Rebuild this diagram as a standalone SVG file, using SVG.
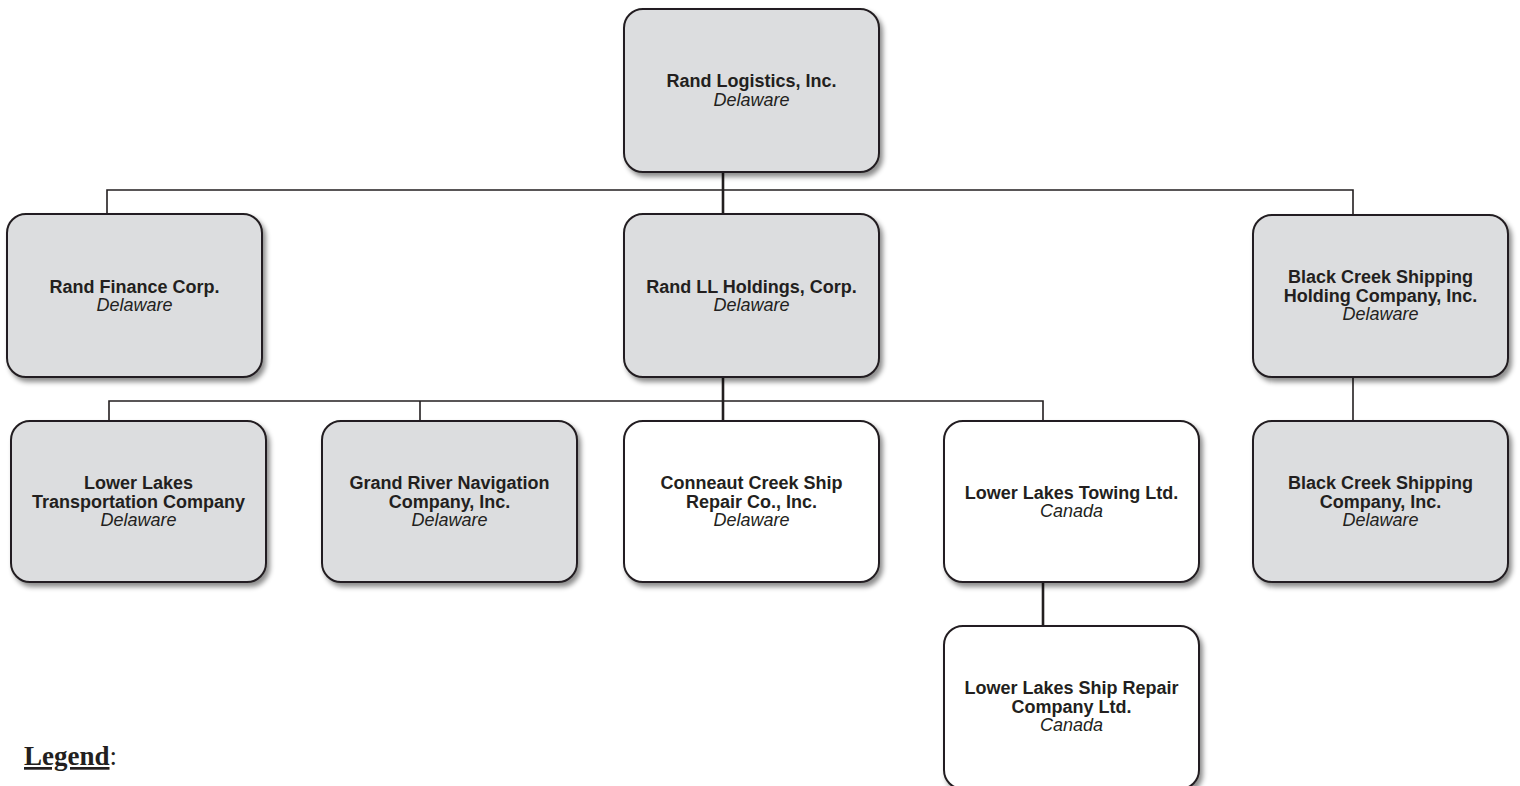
<svg xmlns="http://www.w3.org/2000/svg" width="1520" height="786" viewBox="0 0 1520 786">
<style>
.box{stroke:#231f20;stroke-width:2;filter:url(#sh)}
.g{fill:#dcdddf}
.w{fill:#ffffff}
.t{font-family:"Liberation Sans",Arial,sans-serif;font-size:18px;fill:#231f20;text-anchor:middle}
.b{font-weight:bold}
.i{font-style:italic}
.c{stroke:#231f20;stroke-width:1.6;fill:none}
.tr{stroke:#231f20;stroke-width:2.6;fill:none}
</style>
<defs>
<filter id="sh" x="-10%" y="-10%" width="130%" height="130%">
<feDropShadow dx="3" dy="4" stdDeviation="2.5" flood-color="#000" flood-opacity="0.45"/>
</filter>
</defs>
<rect width="1520" height="786" fill="#ffffff"/>
<g id="connectors">
<path class="tr" d="M723 172 V190"/>
<path class="c" d="M107 214 V190 H1353 V215"/>
<path class="tr" d="M723 190 V214"/>
<path class="tr" d="M723 377 V401"/>
<path class="c" d="M109 421 V401 H1043 V421"/>
<path class="c" d="M420 421 V401"/>
<path class="tr" d="M723 401 V421"/>
<path class="tr" d="M1043 582 V626"/>
<path class="c" d="M1353 376 V421"/>
</g>
<g id="n_rand_logistics">
<rect class="box g" x="624" y="9" width="255" height="163" rx="19"/>
<text class="t" x="751.5"><tspan class="b" x="751.5" y="87">Rand Logistics, Inc.</tspan><tspan class="i" x="751.5" y="106">Delaware</tspan></text>
</g>
<g id="n_rand_finance">
<rect class="box g" x="7" y="214" width="255" height="163" rx="19"/>
<text class="t"><tspan class="b" x="134.5" y="292.5">Rand Finance Corp.</tspan><tspan class="i" x="134.5" y="311">Delaware</tspan></text>
</g>
<g id="n_rand_ll">
<rect class="box g" x="624" y="214" width="255" height="163" rx="19"/>
<text class="t"><tspan class="b" x="751.5" y="292.5">Rand LL Holdings, Corp.</tspan><tspan class="i" x="751.5" y="311">Delaware</tspan></text>
</g>
<g id="n_black_creek_holding">
<rect class="box g" x="1253" y="215" width="255" height="162" rx="19"/>
<text class="t"><tspan class="b" x="1380.5" y="283">Black Creek Shipping</tspan><tspan class="b" x="1380.5" y="301.5">Holding Company, Inc.</tspan><tspan class="i" x="1380.5" y="320">Delaware</tspan></text>
</g>
<g id="n_lower_lakes_transport">
<rect class="box g" x="11" y="421" width="255" height="161" rx="19"/>
<text class="t"><tspan class="b" x="138.5" y="489">Lower Lakes</tspan><tspan class="b" x="138.5" y="507.5">Transportation Company</tspan><tspan class="i" x="138.5" y="526">Delaware</tspan></text>
</g>
<g id="n_grand_river">
<rect class="box g" x="322" y="421" width="255" height="161" rx="19"/>
<text class="t"><tspan class="b" x="449.5" y="489">Grand River Navigation</tspan><tspan class="b" x="449.5" y="507.5">Company, Inc.</tspan><tspan class="i" x="449.5" y="526">Delaware</tspan></text>
</g>
<g id="n_conneaut">
<rect class="box w" x="624" y="421" width="255" height="161" rx="19"/>
<text class="t"><tspan class="b" x="751.5" y="489">Conneaut Creek Ship</tspan><tspan class="b" x="751.5" y="507.5">Repair Co., Inc.</tspan><tspan class="i" x="751.5" y="526">Delaware</tspan></text>
</g>
<g id="n_lower_lakes_towing">
<rect class="box w" x="944" y="421" width="255" height="161" rx="19"/>
<text class="t"><tspan class="b" x="1071.5" y="498.5">Lower Lakes Towing Ltd.</tspan><tspan class="i" x="1071.5" y="517">Canada</tspan></text>
</g>
<g id="n_black_creek_shipping">
<rect class="box g" x="1253" y="421" width="255" height="161" rx="19"/>
<text class="t"><tspan class="b" x="1380.5" y="489">Black Creek Shipping</tspan><tspan class="b" x="1380.5" y="507.5">Company, Inc.</tspan><tspan class="i" x="1380.5" y="526">Delaware</tspan></text>
</g>
<g id="n_lower_lakes_ship_repair">
<rect class="box w" x="944" y="626" width="255" height="163" rx="19"/>
<text class="t"><tspan class="b" x="1071.5" y="694">Lower Lakes Ship Repair</tspan><tspan class="b" x="1071.5" y="712.5">Company Ltd.</tspan><tspan class="i" x="1071.5" y="731">Canada</tspan></text>
</g>
<g id="legend">
<text x="24" y="765" font-family="'Liberation Serif','Times New Roman',serif" font-size="27" fill="#231f20"><tspan font-weight="bold" text-decoration="underline">Legend</tspan><tspan>:</tspan></text>
</g>
</svg>
